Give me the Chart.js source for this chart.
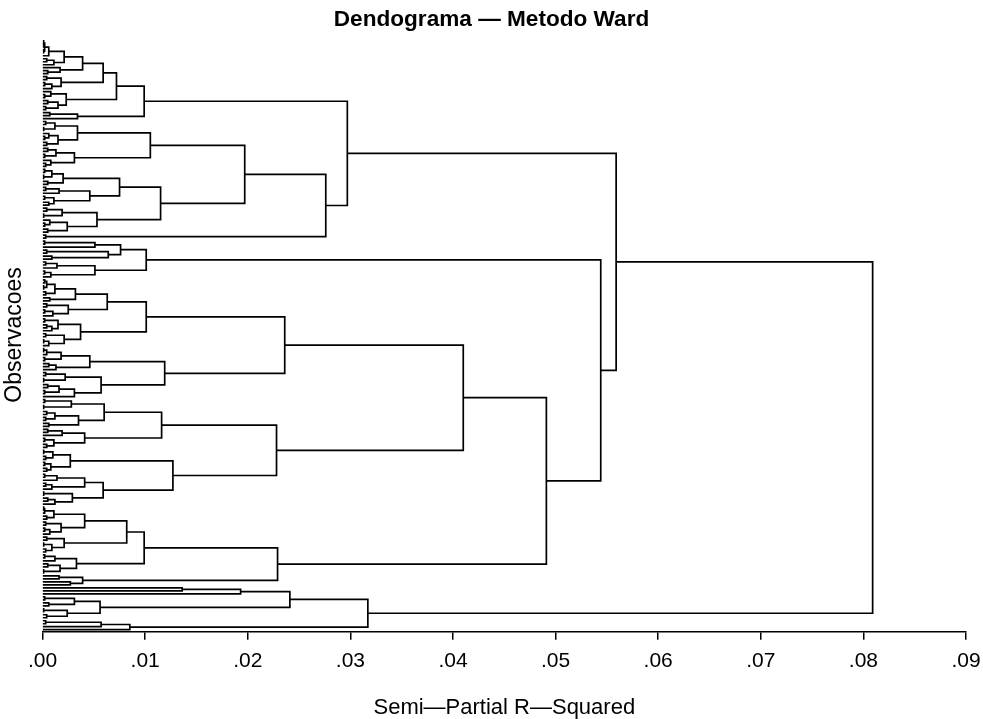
<!DOCTYPE html>
<html><head><meta charset="utf-8">
<script src="https://cdn.jsdelivr.net/npm/chart.js@4.4.1/dist/chart.umd.min.js"></script>
<style>html,body{margin:0;padding:0;background:#fff;} #wrap{width:983px;height:719px;position:relative;}</style>
</head><body><div id="wrap"><canvas id="c"></canvas></div>
<script>
const chartTitle = 'Dendograma \u2014 Metodo Ward';
const xAxisTitle = 'Semi\u2014Partial R\u2014Squared';
const yAxisTitle = 'Observacoes';
const xTickValues = [0, 0.01, 0.02, 0.03, 0.04, 0.05, 0.06, 0.07, 0.08, 0.09];
const xTickLabels = ['.00', '.01', '.02', '.03', '.04', '.05', '.06', '.07', '.08', '.09'];

// Merge height between each pair of neighbouring observations (leaf order top to bottom),
// written per cluster section; joinHeights are the heights linking consecutive sections.
const gapsT1 = [0.0001,0.0001,0.0002,0.0001,0.0006,0.0021,0.0004,0.0011,0.0039,0.0017,0.0005,0.0059,0.0004,0.0018,0.0002,0.0009,0.0072,0.0008,0.0002,0.0023,0.0005,0.0015,0.0003,0.0099,0.0007,0.0034];
const gapsT2a = [0.0003,0.0012,0.0001,0.0034,0.0006,0.0002,0.0015,0.0004,0.0105,0.0005,0.0013,0.0002,0.0031,0.0008,0.0003];
const gapsT2b = [0.0002,0.0009,0.0001,0.0020,0.0005,0.0075,0.0003,0.0016,0.0046,0.0002,0.0011,0.0006,0.0115,0.0004,0.0019,0.0001,0.0053,0.0007,0.0002,0.0024,0.0005];
const gapsT3 = [0.0003];
const gapsM1 = [0.0002,0.0051,0.0076,0.0004,0.0064,0.0009,0.0101,0.0003,0.0014,0.0051,0.0002,0.0008];
const gapsM2a1 = [0.0002,0.0004,0.0001,0.0012,0.0003,0.0032,0.0007,0.0063,0.0004,0.0025,0.0002,0.0010,0.0101,0.0002,0.0015,0.0004,0.0009,0.0037,0.0003,0.0021,0.0001,0.0006];
const gapsM2a2 = [0.0001,0.0004,0.0018,0.0002,0.0046,0.0006,0.0013,0.0119,0.0003,0.0022,0.0001,0.0057,0.0005,0.0016,0.0002,0.0031];
const gapsM2b1 = [0.0002,0.0028,0.0001,0.0060,0.0004,0.0012,0.0003,0.0035,0.0006,0.0116,0.0005,0.0019,0.0041,0.0002,0.0011,0.0004];
const gapsM2b2 = [0.0001,0.0010,0.0003,0.0027,0.0002,0.0008,0.0004,0.0127,0.0002,0.0014,0.0041,0.0003,0.0009,0.0059,0.0001,0.0029,0.0005,0.0012];
const gapsM3a = [0.0001,0.0002,0.0011,0.0004,0.0041,0.0003,0.0018,0.0002,0.0007,0.0082,0.0004,0.0021,0.0001,0.0009,0.0003,0.0099,0.0002,0.0012,0.0033,0.0005,0.0017,0.0001];
const gapsM3b = [0.0016,0.0039,0.0027];
const gapsB1 = [0.0136,0.0193];
const gapsB2 = [0.0002,0.0031,0.0006,0.0056,0.0001,0.0024,0.0004];
const gapsB3 = [0.0003,0.0057,0.0085];
const sections = [gapsT1, gapsT2a, gapsT2b, gapsT3, gapsM1, gapsM2a1, gapsM2a2, gapsM2b1, gapsM2b2, gapsM3a, gapsM3b, gapsB1, gapsB2, gapsB3];
const joinHeights = [0.0297, 0.0197, 0.0276, 0.0559, 0.0544, 0.0236, 0.0410, 0.0228, 0.0491, 0.0229, 0.0809, 0.0241, 0.0317];

// assemble neighbour heights
const gaps = [];
sections.forEach((s, i) => { gaps.push(...s); if (i < joinHeights.length) gaps.push(joinHeights[i]); });
const nLeaves = gaps.length + 1;

const segments = [];
function build(lo, hi) {
  if (lo === hi) return { h: 0, y: lo };
  let k = lo;
  for (let i = lo; i < hi; i++) if (gaps[i] > gaps[k]) k = i;
  const L = build(lo, k), R = build(k + 1, hi);
  const h = gaps[k];
  segments.push([{ x: L.h, y: L.y }, { x: h, y: L.y }, { x: h, y: R.y }, { x: R.h, y: R.y }]);
  return { h: h, y: (L.y + R.y) / 2 };
}
build(0, nLeaves - 1);

const datasets = segments.map(seg => ({
  data: seg, showLine: true, borderColor: '#000', borderWidth: 1.7,
  pointRadius: 0, pointHoverRadius: 0, fill: false, tension: 0
}));

const FONT = '"Liberation Sans", Arial, Helvetica, sans-serif';
new Chart(document.getElementById('c'), {
  type: 'scatter',
  data: { datasets },
  options: {
    responsive: true, maintainAspectRatio: false, animation: false, devicePixelRatio: 1,
    layout: { padding: { left: 0, right: 0, top: 0, bottom: 0 } },
    plugins: {
      legend: { display: false }, tooltip: { enabled: false },
      title: { display: true, text: chartTitle, color: '#000',
        font: { family: FONT, size: 22.6, weight: 'bold' }, padding: { top: 6, bottom: 5 } }
    },
    scales: {
      x: {
        type: 'linear', min: 0, max: 0.09,
        afterBuildTicks: (s) => { s.ticks = xTickValues.map(v => ({ value: v })); },
        afterFit: (s) => { s.paddingRight = 17; },
        ticks: { color: '#000', font: { family: FONT, size: 21 }, padding: 9, maxRotation: 0,
          callback: (v, i) => xTickLabels[i] },
        grid: { display: true, drawOnChartArea: false, drawTicks: true, tickLength: 8, color: '#000', lineWidth: 1.5 },
        border: { display: true, color: '#000', width: 1.5 },
        title: { display: true, text: xAxisTitle, color: '#000', font: { family: FONT, size: 22, lineHeight: 1.0 }, padding: { top: 14, bottom: 0 } }
      },
      y: {
        type: 'linear', reverse: true, min: -0.9, max: nLeaves - 1 + 0.7,
        ticks: { display: false },
        grid: { display: false, drawTicks: false },
        border: { display: false },
        title: { display: true, text: yAxisTitle, color: '#000', font: { family: FONT, size: 23 }, padding: { top: 1, bottom: 14 } }
      }
    }
  }
});
</script></body></html>
